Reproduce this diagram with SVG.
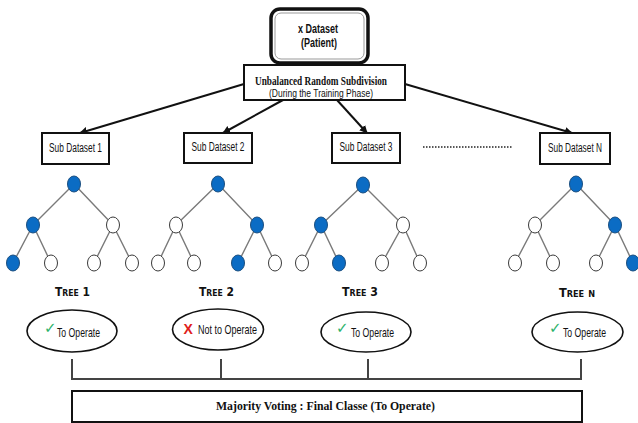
<svg xmlns="http://www.w3.org/2000/svg" width="638" height="423" viewBox="0 0 638 423">
  <style>
    .box { fill: #fff; stroke: #111; stroke-width: 2; }
    .sans { font-family: "Liberation Sans", "DejaVu Sans", sans-serif; fill: #111; }
    .serif { font-family: "Liberation Serif", "DejaVu Serif", serif; fill: #111; }
    .sub { font-size: 12.5px; }
    .edge { stroke: #7a7a7a; stroke-width: 1.4; fill: none; }
    .on { fill: #0b6cc4; stroke: #1c4f80; stroke-width: 1; }
    .off { fill: #fff; stroke: #3a3a3a; stroke-width: 1; }
    .arrow { stroke: #111; stroke-width: 2; fill: none; marker-end: url(#head); }
    .vote { stroke: #444; stroke-width: 2; fill: none; }
    .oval { fill: #fff; stroke: #111; stroke-width: 1.6; }
    .tree { font-family: "DejaVu Sans", "Liberation Sans", sans-serif; font-weight: 900; font-size: 12.5px; font-variant: small-caps; fill: #111; }
    .res { font-family: "Liberation Sans", "DejaVu Sans", sans-serif; font-size: 13px; fill: #111; }
    .ok { fill: #2db36b; font-family: "DejaVu Sans", sans-serif; font-size: 15px; }
    .no { fill: #e0201b; font-weight: bold; font-size: 14px; }
  </style>
  <defs>
    <marker id="head" viewBox="0 0 10 10" refX="9" refY="5" markerWidth="4" markerHeight="4" orient="auto" markerUnits="strokeWidth">
      <path d="M0,0 L10,5 L0,10 z" fill="#111"/>
    </marker>
  </defs>

  <!-- root dataset -->
  <g id="dataset">
    <rect x="271" y="9" width="97" height="54" rx="9" fill="#fff" stroke="#111" stroke-width="3.5"/>
    <rect x="275" y="13" width="89" height="46" rx="6" fill="none" stroke="#999" stroke-width="1"/>
    <text class="sans" x="318" y="33" font-size="12" font-weight="bold" text-anchor="middle" textLength="40" lengthAdjust="spacingAndGlyphs">x Dataset</text>
    <text class="sans" x="319" y="47" font-size="12" font-weight="bold" text-anchor="middle" textLength="36" lengthAdjust="spacingAndGlyphs">(Patient)</text>
  </g>

  <!-- subdivision step -->
  <g id="subdivision">
    <rect class="box" x="244" y="65" width="161" height="35"/>
    <text class="serif" x="321" y="85" font-size="13" font-weight="bold" text-anchor="middle" textLength="132" lengthAdjust="spacingAndGlyphs">Unbalanced Random Subdivision</text>
    <text class="sans" x="321" y="97" font-size="11.5" text-anchor="middle" textLength="104" lengthAdjust="spacingAndGlyphs">(During the Training Phase)</text>
  </g>

  <!-- connectors -->
  <g id="connectors">
    <line class="arrow" x1="244" y1="84" x2="80" y2="133"/>
    <line class="arrow" x1="283" y1="100" x2="223" y2="133"/>
    <line class="arrow" x1="337" y1="100" x2="367" y2="133"/>
    <line class="arrow" x1="405" y1="84" x2="572" y2="133"/>
    <line x1="423" y1="147" x2="513" y2="147" stroke="#222" stroke-width="1.5" stroke-dasharray="1.5,1.5"/>
    <path class="vote" d="M72,359 V379 H581 V359 M221,359 V379 M368,359 V379"/>
  </g>

  <!-- sub datasets -->
  <g id="sub1">
    <rect class="box" x="42" y="133" width="67" height="31"/>
    <text class="sans sub" x="75.5" y="152" text-anchor="middle" textLength="53" lengthAdjust="spacingAndGlyphs">Sub Dataset 1</text>
  </g>
  <g id="sub2">
    <rect class="box" x="184" y="133" width="68" height="30"/>
    <text class="sans sub" x="218" y="151" text-anchor="middle" textLength="53" lengthAdjust="spacingAndGlyphs">Sub Dataset 2</text>
  </g>
  <g id="sub3">
    <rect class="box" x="332" y="133" width="68" height="30"/>
    <text class="sans sub" x="366" y="151" text-anchor="middle" textLength="53" lengthAdjust="spacingAndGlyphs">Sub Dataset 3</text>
  </g>
  <g id="subN">
    <rect class="box" x="540" y="133" width="70" height="31"/>
    <text class="sans sub" x="575" y="152" text-anchor="middle" textLength="54" lengthAdjust="spacingAndGlyphs">Sub Dataset N</text>
  </g>

  <!-- tree 1 -->
  <g id="tree1">
    <path class="edge" d="M74,184 L33,225 M74,184 L113,225 M33,225 L13,263 M33,225 L51,263 M113,225 L94,263 M113,225 L132,263"/>
    <ellipse class="on" cx="74" cy="184" rx="6.5" ry="8"/>
    <ellipse class="on" cx="33" cy="225" rx="6.5" ry="8"/>
    <ellipse class="off" cx="113" cy="225" rx="6.5" ry="8"/>
    <ellipse class="on" cx="13" cy="263" rx="6.5" ry="8"/>
    <ellipse class="off" cx="51" cy="263" rx="6.5" ry="8"/>
    <ellipse class="off" cx="94" cy="263" rx="6.5" ry="8"/>
    <ellipse class="off" cx="132" cy="263" rx="6.5" ry="8"/>
    <text class="tree" x="72.5" y="296" text-anchor="middle" textLength="35" lengthAdjust="spacingAndGlyphs">Tree 1</text>
  </g>

  <!-- tree 2 -->
  <g id="tree2">
    <path class="edge" d="M218,184 L176,225 M218,184 L257,225 M176,225 L158,263 M176,225 L194,263 M257,225 L238,263 M257,225 L275,263"/>
    <ellipse class="on" cx="218" cy="184" rx="6.5" ry="8"/>
    <ellipse class="off" cx="176" cy="225" rx="6.5" ry="8"/>
    <ellipse class="on" cx="257" cy="225" rx="6.5" ry="8"/>
    <ellipse class="off" cx="158" cy="263" rx="6.5" ry="8"/>
    <ellipse class="off" cx="194" cy="263" rx="6.5" ry="8"/>
    <ellipse class="on" cx="238" cy="263" rx="6.5" ry="8"/>
    <ellipse class="off" cx="275" cy="263" rx="6.5" ry="8"/>
    <text class="tree" x="216.5" y="296" text-anchor="middle" textLength="35" lengthAdjust="spacingAndGlyphs">Tree 2</text>
  </g>

  <!-- tree 3 -->
  <g id="tree3">
    <path class="edge" d="M363,185 L321,225 M363,185 L403,225 M321,225 L302,263 M321,225 L339,263 M403,225 L382,263 M403,225 L420,263"/>
    <ellipse class="on" cx="363" cy="185" rx="6.5" ry="8"/>
    <ellipse class="on" cx="321" cy="225" rx="6.5" ry="8"/>
    <ellipse class="off" cx="403" cy="225" rx="6.5" ry="8"/>
    <ellipse class="off" cx="302" cy="263" rx="6.5" ry="8"/>
    <ellipse class="on" cx="339" cy="263" rx="6.5" ry="8"/>
    <ellipse class="off" cx="382" cy="263" rx="6.5" ry="8"/>
    <ellipse class="off" cx="420" cy="263" rx="6.5" ry="8"/>
    <text class="tree" x="360" y="296" text-anchor="middle" textLength="36" lengthAdjust="spacingAndGlyphs">Tree 3</text>
  </g>

  <!-- tree N -->
  <g id="treeN">
    <path class="edge" d="M576,184 L535,225 M576,184 L615,225 M535,225 L515,263 M535,225 L553,263 M615,225 L596,263 M615,225 L633,263"/>
    <ellipse class="on" cx="576" cy="184" rx="6.5" ry="8"/>
    <ellipse class="off" cx="535" cy="225" rx="6.5" ry="8"/>
    <ellipse class="on" cx="615" cy="225" rx="6.5" ry="8"/>
    <ellipse class="off" cx="515" cy="263" rx="6.5" ry="8"/>
    <ellipse class="off" cx="553" cy="263" rx="6.5" ry="8"/>
    <ellipse class="off" cx="596" cy="263" rx="6.5" ry="8"/>
    <ellipse class="on" cx="633" cy="263" rx="6.5" ry="8"/>
    <text class="tree" x="577" y="297" text-anchor="middle" textLength="36" lengthAdjust="spacingAndGlyphs">Tree n</text>
  </g>

  <!-- votes -->
  <g id="vote1">
    <ellipse class="oval" cx="72" cy="331" rx="45" ry="21"/>
    <text class="ok" x="44" y="333">✓</text>
    <text class="res" x="57" y="336.5" textLength="43" lengthAdjust="spacingAndGlyphs">To Operate</text>
  </g>
  <g id="vote2">
    <ellipse class="oval" cx="218" cy="329.5" rx="45.5" ry="20.5"/>
    <text class="sans no" x="183.5" y="334">X</text>
    <text class="res" x="198" y="333.5" textLength="59" lengthAdjust="spacingAndGlyphs">Not to Operate</text>
  </g>
  <g id="vote3">
    <ellipse class="oval" cx="366" cy="332" rx="45" ry="20"/>
    <text class="ok" x="336" y="333">✓</text>
    <text class="res" x="351" y="336.5" textLength="43" lengthAdjust="spacingAndGlyphs">To Operate</text>
  </g>
  <g id="voteN">
    <ellipse class="oval" cx="577.5" cy="332" rx="45.5" ry="20"/>
    <text class="ok" x="549" y="333">✓</text>
    <text class="res" x="563" y="336.5" textLength="43" lengthAdjust="spacingAndGlyphs">To Operate</text>
  </g>

  <!-- final decision -->
  <g id="majority">
    <rect class="box" x="72" y="391" width="510" height="31"/>
    <text class="serif" x="325.5" y="410" font-size="13.5" font-weight="bold" text-anchor="middle" textLength="219" lengthAdjust="spacingAndGlyphs">Majority Voting : Final Classe (To Operate)</text>
  </g>
</svg>
